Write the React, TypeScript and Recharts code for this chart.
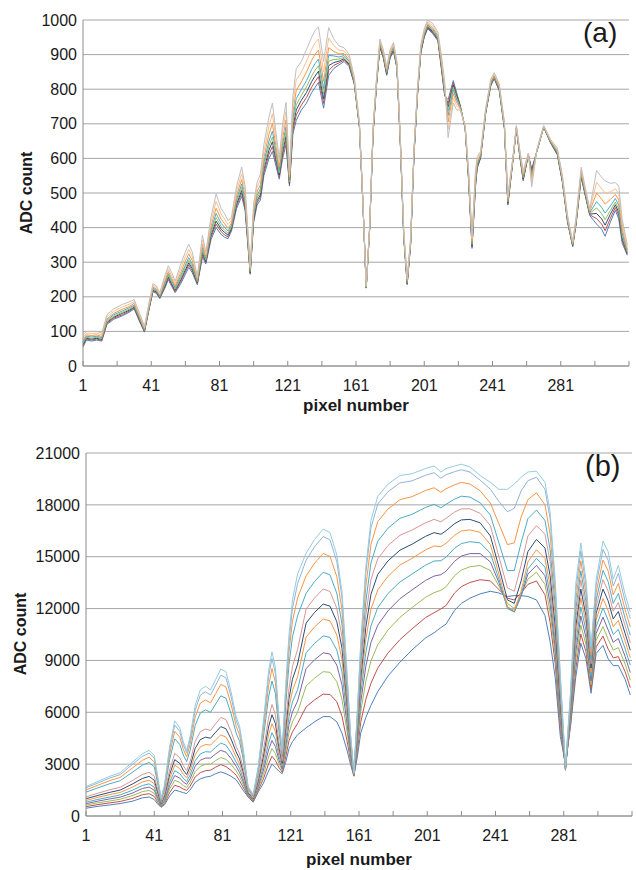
import React from 'react';
import { LineChart, Line, XAxis, YAxis, CartesianGrid } from 'recharts';

// ---------- Panel (a) ----------
const XA = [1,3,6,9,12,15,19,24,28,31,
34,37,40,42,44,46,49,51,53,55,
58,61,63,65,68,71,73,76,79,82,
84,86,88,91,94,96,99,101,103,105,
107,110,112,114,116,118,120,122,124,126,
129,132,135,137,139,142,145,148,151,154,
157,160,163,165,167,169,171,173,175,177,
179,181,183,185,187,189,191,193,195,197,
199,201,203,206,209,211,213,215,218,220,
222,225,227,229,231,232,234,237,240,242,
245,248,250,253,255,257,259,262,264,267,
271,275,279,282,285,288,290,293,295,298,
302,305,307,310,313,315,317,320];

const A0 = [55,75,72,75,72,120,135,145,155,165,
130,98,170,215,210,195,225,250,230,212,
235,265,285,270,235,315,295,365,400,380,
372,368,390,455,490,450,265,415,465,480,
550,600,620,580,540,600,640,520,670,710,
740,760,790,805,820,745,840,860,870,880,
865,815,690,475,225,395,670,810,920,890,
840,890,910,860,640,370,235,350,610,780,
905,950,975,960,940,860,780,770,825,790,
755,685,535,340,515,570,600,730,810,830,
795,685,465,595,685,605,535,610,570,620,
690,645,610,530,415,345,410,545,500,435,
410,395,375,415,450,425,355,320];
const A1 = [59,78,75,78,74,123,138,148,158,168,
133,100,172,217,212,197,229,254,234,215,
241,272,292,276,238,321,299,372,410,388,
379,373,394,462,499,457,268,421,472,488,
559,612,634,590,546,610,652,524,681,725,
754,776,806,822,836,759,854,869,876,884,
869,817,692,476,226,396,672,812,923,893,
843,893,913,862,642,372,237,352,612,782,
908,953,978,963,943,864,784,759,819,785,
754,686,538,344,520,574,602,732,812,832,
797,687,468,596,686,607,538,611,565,621,
691,646,612,532,417,347,412,548,503,437,
426,410,391,426,458,435,362,323];
const A2 = [62,80,78,80,77,126,141,152,161,170,
135,101,174,220,214,198,232,258,238,219,
246,278,298,282,240,328,302,378,419,395,
386,378,398,468,507,464,270,426,478,495,
568,624,648,600,552,620,664,528,692,740,
768,791,822,838,852,772,868,877,881,888,
872,819,693,477,226,397,674,814,925,895,
845,895,915,864,644,374,239,354,614,784,
910,955,980,966,945,868,788,748,812,780,
752,687,541,347,525,577,604,733,814,834,
799,689,471,597,687,609,541,611,560,621,
691,647,614,534,419,348,414,551,505,439,
441,425,407,438,466,444,369,326];
const A3 = [66,83,80,83,79,128,144,155,164,173,
138,103,176,222,217,200,236,262,242,222,
252,285,305,288,243,334,306,385,429,403,
392,384,402,475,516,471,273,432,485,503,
577,636,662,610,558,630,677,532,703,755,
782,807,838,855,868,786,881,886,887,892,
876,821,695,478,227,398,676,816,928,898,
848,898,918,866,646,376,241,356,616,786,
913,958,983,969,948,872,792,737,806,775,
751,688,544,351,530,581,606,735,816,835,
801,691,474,598,688,611,544,612,554,622,
692,648,616,536,421,350,416,554,508,441,
457,440,423,449,474,454,376,329];
const A4 = [70,86,84,86,82,132,148,159,168,176,
141,105,178,225,219,202,241,267,247,226,
258,292,313,295,246,342,310,392,441,412,
401,390,407,482,526,479,276,438,492,512,
588,650,679,622,565,642,691,537,716,773,
799,825,857,874,887,802,898,896,893,897,
880,823,696,479,228,399,678,818,931,901,
851,901,921,868,648,378,243,358,618,788,
916,961,986,973,951,877,797,724,798,769,
749,689,548,355,536,585,608,736,818,838,
803,693,478,599,689,613,548,612,548,622,
692,649,618,538,423,351,418,558,511,443,
475,458,442,462,484,465,384,333];
const A5 = [75,90,88,90,85,136,152,164,172,181,
145,108,182,228,223,205,247,273,253,231,
267,303,324,305,250,352,315,403,456,424,
411,398,413,493,539,491,280,447,503,524,
602,670,701,638,575,658,711,543,734,797,
821,850,883,901,913,823,920,909,902,903,
885,827,699,481,229,401,682,822,935,905,
855,905,925,872,652,382,247,362,622,792,
920,965,990,977,955,883,803,706,787,761,
746,691,552,360,544,590,612,739,822,840,
807,697,482,601,691,617,552,613,540,623,
693,651,622,542,427,354,422,562,515,447,
500,482,468,481,496,480,396,337];
const A6 = [82,95,94,95,90,142,158,171,178,186,
150,111,186,233,227,208,254,281,261,238,
278,316,337,317,255,364,322,416,476,439,
425,409,421,506,556,505,285,458,516,539,
620,694,729,658,587,678,735,551,756,827,
849,881,915,934,945,850,948,926,913,911,
892,831,702,483,230,403,686,826,940,910,
860,910,930,876,656,386,251,366,626,796,
925,970,995,983,960,891,811,684,774,751,
743,693,558,367,554,597,616,742,826,844,
811,701,488,603,693,621,558,614,529,624,
694,653,626,546,431,357,426,568,520,451,
531,512,500,503,512,499,410,343];
const A7 = [90,100,100,100,95,148,165,178,185,192,
155,115,190,238,232,212,262,290,270,245,
290,330,352,330,260,378,330,430,497,455,
440,420,430,520,575,520,290,470,530,555,
640,720,760,680,600,700,762,560,780,860,
880,915,950,970,980,880,978,945,925,920,
900,835,705,485,232,405,690,830,945,915,
865,915,935,880,660,390,255,370,630,800,
930,975,1000,990,965,900,820,660,760,740,
740,695,565,375,565,605,620,745,830,848,
815,705,495,605,695,625,565,615,518,625,
695,655,630,550,435,360,430,575,525,455,
565,545,535,528,530,520,425,350];

// ---------- Panel (b) ----------
const XB = [1,8,15,21,28,34,38,41,43,45,
47,50,53,56,58,60,62,65,68,71,
74,77,80,83,86,89,91,93,96,99,
102,105,108,110,112,114,116,118,120,122,
125,130,135,140,144,148,151,154,156,158,
160,162,165,168,172,178,185,192,200,205,
209,212,217,221,226,232,238,243,248,252,
256,260,265,270,273,276,279,282,285,288,
291,294,297,300,304,307,310,313,317,320];

const B0 = [450,560,640,720,850,1050,1100,950,700,500,
650,1150,1500,1420,1350,1300,1500,1950,2150,2250,
2300,2450,2550,2450,2300,2100,1800,1500,1100,800,
1400,1900,2600,3000,2800,2600,2450,3100,3900,4300,
4700,5100,5450,5750,5750,5450,4800,3800,3000,2300,
3400,4800,5700,6400,7200,8100,8900,9600,10300,10600,
10900,11100,11900,12300,12600,12850,13000,12900,12700,12750,
12750,12700,12500,11600,10100,8000,4600,3000,5200,8000,
10000,9100,7100,9400,9870,9100,8700,8700,7900,7000];
const B1 = [540,660,760,840,1010,1230,1290,1130,810,540,
730,1350,1780,1680,1560,1480,1720,2260,2510,2620,
2650,2830,2970,2860,2640,2360,2040,1680,1140,830,
1510,2150,3010,3460,3210,2820,2540,3410,4360,4870,
5350,6310,6720,7050,7030,6610,5780,4340,3220,2320,
3710,5420,6740,7680,8560,9430,10200,10820,11480,11760,
11980,12180,12900,13270,13510,13670,13600,13100,12600,12500,
12900,13400,13600,12800,11200,8800,5000,2900,5380,8490,
10520,9510,7340,9790,10410,9660,9150,9220,8340,7430];
const B2 = [630,760,870,970,1170,1410,1480,1310,920,570,
810,1550,2060,1940,1760,1650,1930,2570,2870,2990,
3000,3210,3380,3280,2990,2610,2280,1850,1180,860,
1610,2400,3410,3910,3610,3050,2640,3720,4820,5450,
6000,7520,7980,8350,8310,7770,6770,4880,3430,2350,
4020,6050,7790,8970,9910,10760,11490,12050,12650,12920,
13060,13260,13900,14230,14420,14490,14200,13300,12300,12000,
12800,13700,14100,13400,11800,9300,5300,2800,5560,8970,
11040,9930,7590,10170,10960,10220,9600,9740,8780,7860];
const B3 = [710,860,990,1090,1320,1590,1670,1490,1040,610,
890,1750,2340,2190,1970,1830,2150,2880,3230,3350,
3350,3590,3800,3690,3330,2870,2510,2030,1230,890,
1720,2660,3820,4370,4020,3270,2730,4020,5290,6020,
6650,8530,9040,9440,9370,8730,7590,5330,3610,2370,
4280,6570,8660,10040,11040,11870,12570,13070,13630,13880,
13960,14160,14740,15040,15180,15180,14700,13500,12100,11800,
12700,14000,14500,13900,12300,9700,5600,2750,5740,9460,
11570,10340,7830,10560,11500,10770,10050,10270,9220,8300];
const B4 = [800,960,1100,1220,1480,1760,1860,1660,1150,640,
970,1950,2620,2450,2180,2000,2370,3200,3590,3720,
3700,3980,4220,4100,3670,3120,2750,2200,1270,930,
1820,2910,4220,4820,4420,3500,2830,4330,5750,6600,
7300,9440,9990,10420,10330,9600,8330,5740,3770,2390,
4520,7040,9440,11000,12060,12870,13540,13990,14510,14750,
14770,14970,15490,15760,15870,15800,15200,13700,12000,11800,
12800,14300,14900,14400,12800,10100,5900,2700,5920,9940,
12090,10760,8070,10950,12040,11330,10500,10790,9660,8730];
const B5 = [900,1080,1240,1360,1660,1970,2070,1870,1280,680,
1060,2180,2940,2740,2410,2200,2620,3550,4000,4140,
4100,4410,4690,4570,4060,3410,3020,2400,1320,960,
1940,3200,4690,5340,4890,3750,2940,4680,6280,7250,
8050,10350,10940,11390,11290,10470,9060,6140,3940,2400,
4750,7500,10220,11960,13080,13870,14520,14900,15400,15620,
15580,15780,16240,16490,16550,16410,15700,14000,12100,11900,
13000,14700,15400,14900,13300,10500,6200,2700,6100,10430,
12610,11170,8320,11340,12580,11890,10950,11310,10110,9160];
const B6 = [1000,1190,1370,1500,1840,2170,2290,2070,1400,720,
1160,2400,3260,3040,2650,2400,2860,3910,4420,4560,
4500,4850,5170,5050,4460,3710,3300,2600,1360,1000,
2060,3480,5150,5860,5350,4010,3040,5040,6800,7910,
8790,11160,11780,12260,12140,11240,9720,6500,4080,2420,
4960,7920,10920,12820,13980,14760,15380,15720,16180,16390,
16300,16500,16910,17130,17160,16960,16200,14400,12500,12300,
13600,15300,16000,15500,13900,11000,6500,2650,6280,10920,
13130,11580,8560,11720,13130,12450,11400,11830,10550,9590];
const B7 = [1110,1320,1520,1660,2040,2400,2530,2300,1550,770,
1260,2660,3620,3370,2910,2630,3140,4310,4880,5030,
4950,5340,5700,5580,4900,4030,3600,2830,1420,1040,
2200,3810,5670,6450,5870,4300,3170,5430,7400,8650,
9630,11970,12620,13130,12990,12010,10380,6860,4220,2440,
5170,8340,11620,13680,14880,15650,16240,16540,16960,17160,
17020,17220,17580,17770,17770,17510,16800,15000,13200,13000,
14500,16200,16800,16300,14700,11600,6900,2650,6460,11400,
13650,12000,8800,12110,13670,13010,11850,12350,10990,10020];
const B8 = [1380,1630,1870,2040,2520,2940,3100,2840,1880,870,
1500,3260,4460,4140,3530,3150,3790,5240,5960,6140,
6000,6480,6950,6820,5930,4800,4320,3350,1540,1130,
2510,4560,6890,7810,7090,4970,3450,6360,8780,10370,
11580,12880,13570,14100,13950,12880,11110,7270,4390,2450,
5400,8800,12400,14640,15900,16650,17220,17450,17850,18030,
17830,18030,18330,18500,18450,18120,17400,15800,14200,14200,
15800,17200,17700,17100,15400,12200,7300,2700,6640,11890,
14180,12410,9040,12500,14210,13560,12300,12880,11430,10460];
const B9 = [1510,1780,2050,2230,2760,3220,3400,3120,2060,930,
1630,3570,4900,4550,3860,3430,4140,5730,6530,6710,
6550,7080,7610,7470,6470,5200,4690,3630,1610,1180,
2680,4960,7530,8530,7730,5320,3600,6840,9510,11270,
12610,13890,14630,15190,15020,13850,11930,7720,4570,2470,
5660,9320,13270,15710,17030,17760,18300,18470,18830,18990,
18730,18930,19160,19300,19210,18810,18100,16900,15700,15800,
17300,18300,18700,18000,16300,12800,7700,2750,6840,12430,
14760,12870,9310,12930,14810,14180,12800,13460,11920,10940];
const B10 = [1630,1910,2200,2390,2970,3450,3640,3350,2200,970,
1730,3830,5260,4880,4120,3650,4410,6130,6990,7190,
7000,7570,8140,8000,6910,5530,5000,3850,1660,1220,
2810,5280,8050,9110,8250,5610,3720,7240,10100,12010,
13440,14800,15580,16170,15970,14710,12670,8120,4730,2490,
5900,9790,14050,16670,18050,18760,19270,19390,19710,19860,
19540,19740,19920,20030,19900,19430,18900,18200,17600,17800,
18800,19400,19600,18900,17200,13300,8000,2800,7040,12970,
15340,13330,9580,13360,15420,14800,13300,14040,12410,11420];
const B11 = [1700,2000,2300,2500,3100,3600,3800,3500,2300,1000,
1800,4000,5500,5100,4300,3800,4600,6400,7300,7500,
7300,7900,8500,8350,7200,5750,5200,4000,1700,1250,
2900,5500,8400,9500,8600,5800,3800,7500,10500,12500,
14000,15200,16000,16600,16400,15100,13000,8300,4800,2500,
6000,10000,14400,17100,18500,19200,19700,19800,20100,20250,
19900,20100,20250,20350,20200,19700,19300,18900,18900,19200,
19600,19900,19950,19300,17600,13600,8200,2900,7200,13400,
15800,13700,9800,13700,15900,15300,13700,14500,12800,11800];

// ---------- ticks ----------
const X_TICKS = [1,21,41,61,81,101,121,141,161,181,201,221,241,261,281,301,321];
const X_LABELS = [1,41,81,121,161,201,241,281];
const Y_TICKS_A = [0,100,200,300,400,500,600,700,800,900,1000];
const Y_TICKS_B = [0,3000,6000,9000,12000,15000,18000,21000];

const SERIES_A = [A0, A1, A2, A3, A4, A5, A6, A7];
const COLORS_A = ['#4F81BD','#C0504D','#2C4D75','#9BBB59','#4BACC6','#F79646','#FAC090','#BFBFBF'];
const SERIES_B = [B0, B1, B2, B3, B4, B5, B6, B7, B8, B9, B10, B11];
const COLORS_B = ['#4F81BD','#C0504D','#9BBB59','#8064A2','#4BACC6','#F79646','#2C4D75','#D99694','#4BACC6','#F79646','#95B3D7','#93CDDD'];

const rowsA = XA.map((x, i) => {
  const r: any = { x };
  SERIES_A.forEach((s, k) => { r['a' + k] = s[i]; });
  return r;
});
const rowsB = XB.map((x, i) => {
  const r: any = { x };
  SERIES_B.forEach((s, k) => { r['b' + k] = s[i]; });
  return r;
});

const FONT = 'Liberation Sans, Arial, sans-serif';
const AXIS = '#8c8c8c';
const GRID = '#a6a6a6';

const XTick = (props: any) => {
  const { x, y, payload } = props;
  const show = X_LABELS.includes(payload.value);
  return (
    <g>
      <line x1={x} x2={x} y1={y - 5} y2={y} stroke={AXIS} strokeWidth={1} />
      {show && (
        <text x={x} y={y + 25} textAnchor="middle" fill="#1a1a1a" fontSize={16} fontFamily={FONT}>
          {payload.value}
        </text>
      )}
    </g>
  );
};

export default function App() {
  return (
    <div style={{ position: 'absolute', left: 0, top: 0, width: 636, height: 870, background: '#fff' }}>
      <div style={{ position: 'absolute', left: 0, top: 0 }}>
        <LineChart width={636} height={410} data={rowsA} margin={{ top: 20, right: 7, bottom: 14, left: 0 }}>
          <CartesianGrid vertical={false} stroke={GRID} />
          <XAxis dataKey="x" type="number" domain={[1, 321]} ticks={X_TICKS} interval={0}
            tickSize={0} tickMargin={0} tickLine={false} axisLine={{ stroke: AXIS }} height={30} tick={<XTick />} />
          <YAxis type="number" domain={[0, 1000]} ticks={Y_TICKS_A} interval={0} width={83}
            tickSize={0} tickMargin={6} tickLine={false} axisLine={{ stroke: AXIS }}
            tick={{ fill: '#1a1a1a', fontSize: 16, fontFamily: FONT }} />
          {SERIES_A.map((_, k) => (
            <Line key={k} type="linear" dataKey={'a' + k} stroke={COLORS_A[k]} strokeWidth={1}
              dot={false} isAnimationActive={false} />
          ))}
        </LineChart>
      </div>
      <div style={{ position: 'absolute', left: 0, top: 430 }}>
        <LineChart width={636} height={440} data={rowsB} margin={{ top: 23, right: 4, bottom: 24, left: 0 }}>
          <CartesianGrid vertical={false} stroke={GRID} />
          <XAxis dataKey="x" type="number" domain={[1, 321]} ticks={X_TICKS} interval={0}
            tickSize={0} tickMargin={0} tickLine={false} axisLine={{ stroke: AXIS }} height={30} tick={<XTick />} />
          <YAxis type="number" domain={[0, 21000]} ticks={Y_TICKS_B} interval={0} width={86}
            tickSize={0} tickMargin={6} tickLine={false} axisLine={{ stroke: AXIS }}
            tick={{ fill: '#1a1a1a', fontSize: 16, fontFamily: FONT }} />
          {SERIES_B.map((_, k) => (
            <Line key={k} type="linear" dataKey={'b' + k} stroke={COLORS_B[k]} strokeWidth={1}
              dot={false} isAnimationActive={false} />
          ))}
        </LineChart>
      </div>
      <svg width={636} height={870} style={{ position: 'absolute', left: 0, top: 0, pointerEvents: 'none' }}>
        <text x={26} y={193} transform="rotate(-90 26 193)" textAnchor="middle" dominantBaseline="central"
          fontSize={16} fontWeight="bold" fontFamily={FONT} fill="#1a1a1a">ADC count</text>
        <text x={20} y={634} transform="rotate(-90 20 634)" textAnchor="middle" dominantBaseline="central"
          fontSize={16} fontWeight="bold" fontFamily={FONT} fill="#1a1a1a">ADC count</text>
        <text x={356} y={411} textAnchor="middle" fontSize={17} fontWeight="bold" fontFamily={FONT} fill="#1a1a1a">pixel number</text>
        <text x={359} y={865} textAnchor="middle" fontSize={17} fontWeight="bold" fontFamily={FONT} fill="#1a1a1a">pixel number</text>
        <text x={583} y={42} fontSize={28} fontFamily={FONT} fill="#1a1a1a">(a)</text>
        <text x={585} y={476} fontSize={29} fontFamily={FONT} fill="#1a1a1a">(b)</text>
      </svg>
    </div>
  );
}
